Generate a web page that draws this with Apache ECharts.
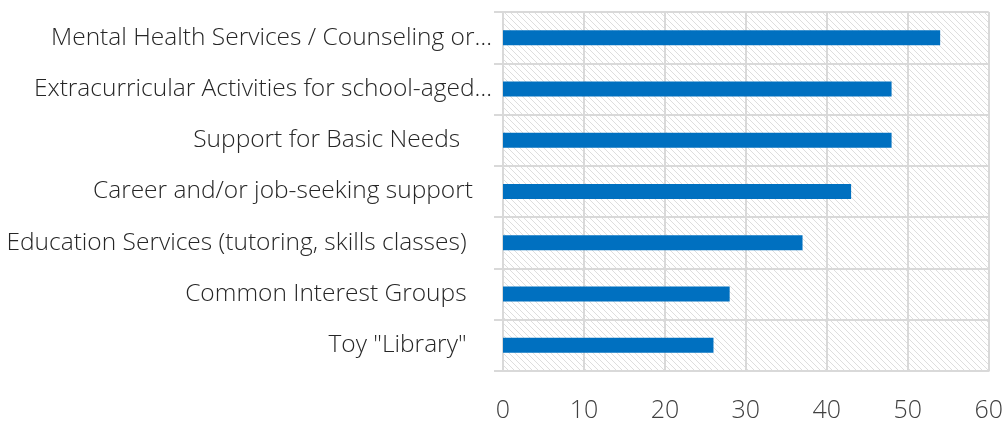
<!DOCTYPE html>
<html><head><meta charset="utf-8">
<script src="https://cdn.jsdelivr.net/npm/echarts@6/dist/echarts.min.js"></script>
<style>html,body{margin:0;padding:0;background:#fff}#c{width:1006px;height:423px}</style>
</head><body><div id="c"></div>
<script>
var categories = ["Mental Health Services / Counseling or\u2026", "Extracurricular Activities for school-aged\u2026", "Support for Basic Needs     ", "Career and/or job-seeking support   ", "Education Services (tutoring, skills classes)    ", "Common Interest Groups    ", "Toy \"Library\"    "];
var values = [54, 48, 48, 43, 37, 28, 26];
var xTicks = {min: 0, max: 60, interval: 10};

var pc = document.createElement('canvas');
pc.width = 6; pc.height = 6;
var g = pc.getContext('2d');
g.fillStyle = '#ffffff'; g.fillRect(0,0,6,6);
g.fillStyle = '#dedede';
for (var i = 0; i < 6; i++) { g.fillRect(i, i, 1, 1); }

var font = '"Open Sans", "Noto Sans", sans-serif';
var chart = echarts.init(document.getElementById('c'), null, {renderer: 'canvas'});
chart.setOption({
  animation: false,
  grid: {left: 503, right: 15, top: 12, bottom: 51, show: true, borderWidth: 0,
         backgroundColor: {image: pc, repeat: 'repeat'}},
  xAxis: {type: 'value', min: xTicks.min, max: xTicks.max, interval: xTicks.interval,
    axisLine: {show: true, lineStyle: {color: '#d9d9d9', width: 2}},
    axisTick: {show: false},
    splitLine: {show: true, lineStyle: {color: '#d9d9d9', width: 2}},
    axisLabel: {margin: 27, color: '#404040', fontSize: 25, fontFamily: font, fontWeight: 300}
  },
  yAxis: {type: 'category', inverse: true, data: categories,
    axisLine: {show: true, lineStyle: {color: '#d9d9d9', width: 2}},
    axisTick: {show: true, length: 9, lineStyle: {color: '#d9d9d9', width: 2}},
    splitLine: {show: true, lineStyle: {color: '#d9d9d9', width: 2}},
    axisLabel: {margin: 11, color: '#262626', fontSize: 24.5, fontFamily: font, fontWeight: 300}
  },
  series: [{type: 'bar', data: values, barWidth: 15, itemStyle: {color: '#0070C0'}}]
});
</script></body></html>
